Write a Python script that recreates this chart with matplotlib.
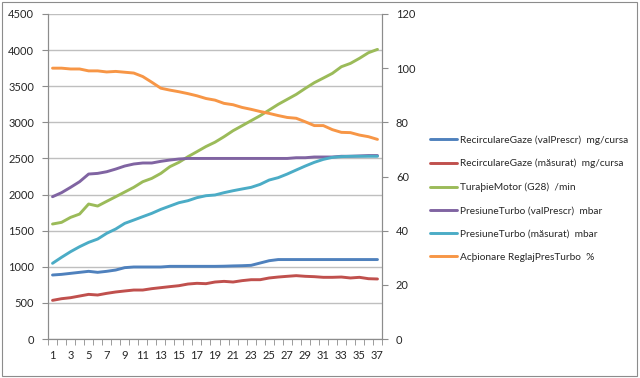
import numpy as np
import matplotlib
matplotlib.use('Agg')
import matplotlib.pyplot as plt
from matplotlib.patches import Rectangle

plt.rcParams['font.family'] = ['Lato', 'DejaVu Sans']

# categories 1..37
steps = list(range(1, 38))

egr_set = [886, 895, 909, 923, 937, 923, 937, 955, 988, 997, 997, 997, 997, 1006, 1006,
           1006, 1006, 1006, 1006, 1008, 1012, 1015, 1020, 1052, 1084, 1100, 1100, 1100,
           1100, 1100, 1100, 1100, 1100, 1100, 1100, 1100, 1100]
egr_meas = [535, 558, 572, 595, 618, 609, 632, 651, 665, 678, 678, 697, 711, 725, 738,
            761, 771, 766, 789, 798, 789, 808, 821, 821, 845, 858, 868, 877, 868, 863,
            854, 854, 858, 845, 854, 835, 831]
rpm = [1592, 1615, 1684, 1730, 1869, 1841, 1906, 1970, 2035, 2100, 2178, 2224, 2293,
       2386, 2446, 2524, 2594, 2665, 2725, 2801, 2884, 2953, 3023, 3092, 3170, 3249,
       3318, 3387, 3470, 3549, 3613, 3678, 3770, 3816, 3886, 3964, 4010]
boost_set = [1970, 2026, 2100, 2178, 2284, 2293, 2316, 2353, 2395, 2423, 2437, 2437,
             2460, 2478, 2492, 2500, 2500, 2500, 2500, 2500, 2500, 2500, 2500, 2500,
             2500, 2500, 2500, 2510, 2510, 2520, 2520, 2520, 2530, 2530, 2535, 2540, 2540]
boost_meas = [1048, 1131, 1209, 1278, 1338, 1384, 1463, 1523, 1601, 1647, 1694, 1740,
              1795, 1841, 1887, 1915, 1957, 1984, 1994, 2026, 2053, 2077, 2100, 2141,
              2201, 2234, 2284, 2340, 2395, 2446, 2487, 2515, 2525, 2530, 2530, 2530, 2530]
# right axis (%)
boost_duty = [100.0, 100.0, 99.7, 99.7, 99.0, 99.0, 98.6, 98.8, 98.5, 98.2, 96.9, 94.8,
              92.6, 91.9, 91.3, 90.6, 89.8, 88.8, 88.2, 87.0, 86.5, 85.5, 84.8, 84.0,
              83.3, 82.5, 81.8, 81.5, 80.2, 78.8, 78.8, 77.3, 76.3, 76.2, 75.3, 74.7, 73.7]

labels = ['RecirculareGaze (valPrescr)  mg/cursa',
          'RecirculareGaze (măsurat)  mg/cursa',
          'TuraþieMotor (G28)  /min',
          'PresiuneTurbo (valPrescr)  mbar',
          'PresiuneTurbo (măsurat)  mbar',
          'Acþionare ReglajPresTurbo  %']
colors = ['#4F81BD', '#C0504D', '#9BBB59', '#8064A2', '#4BACC6', '#F79646']

fig = plt.figure(figsize=(6.4, 3.78), dpi=100)
fig.patches.append(Rectangle((2 / 640, 2 / 378), 635 / 640, 374 / 378, transform=fig.transFigure,
                             fill=False, edgecolor='#8c8c8c', linewidth=0.8))
ax = fig.add_axes([48 / 640, 1 - 339 / 378, 334 / 640, 325 / 378])
ax2 = ax.twinx()

lines = []
for data, c, lab in zip([egr_set, egr_meas, rpm, boost_set, boost_meas], colors[:5], labels[:5]):
    ln, = ax.plot(steps, data, color=c, lw=2.1, label=lab, solid_capstyle='round')
    lines.append(ln)
ln, = ax2.plot(steps, boost_duty, color=colors[5], lw=2.1, label=labels[5], solid_capstyle='round')
lines.append(ln)

ax.set_xlim(0.5, 37.5)
ax.set_ylim(0, 4500)
ax.set_yticks(np.arange(0, 4501, 500))
ax2.set_ylim(0, 120)
ax2.set_yticks(np.arange(0, 121, 20))
ax.yaxis.grid(True, color='#bfbfbf', lw=1)
ax.set_axisbelow(True)

# category labels at odd steps, tick marks at category boundaries
ax.set_xticks(steps[::2])
ax.set_xticklabels([str(s) for s in steps[::2]])
ax.tick_params(axis='x', length=0, pad=8)
ax.set_xticks(np.arange(0.5, 38, 1), minor=True)
ax.tick_params(axis='x', which='minor', length=4, color='#8c8c8c')

for a in (ax, ax2):
    for s in a.spines.values():
        s.set_color('#8c8c8c')
    a.spines['top'].set_visible(False)
    a.tick_params(labelsize=8, labelcolor='#262626', color='#8c8c8c')
ax.tick_params(axis='y', length=4, pad=6)
ax2.tick_params(axis='y', length=4, pad=6)

fig.legend(lines, labels, loc='upper left', bbox_to_anchor=(425 / 640, 1 - 130 / 378),
           frameon=False, fontsize=7.3, handlelength=2.7, handletextpad=0.3,
           labelspacing=1.4, borderpad=0, labelcolor='#262626')

fig.savefig('out.png', dpi=100)
